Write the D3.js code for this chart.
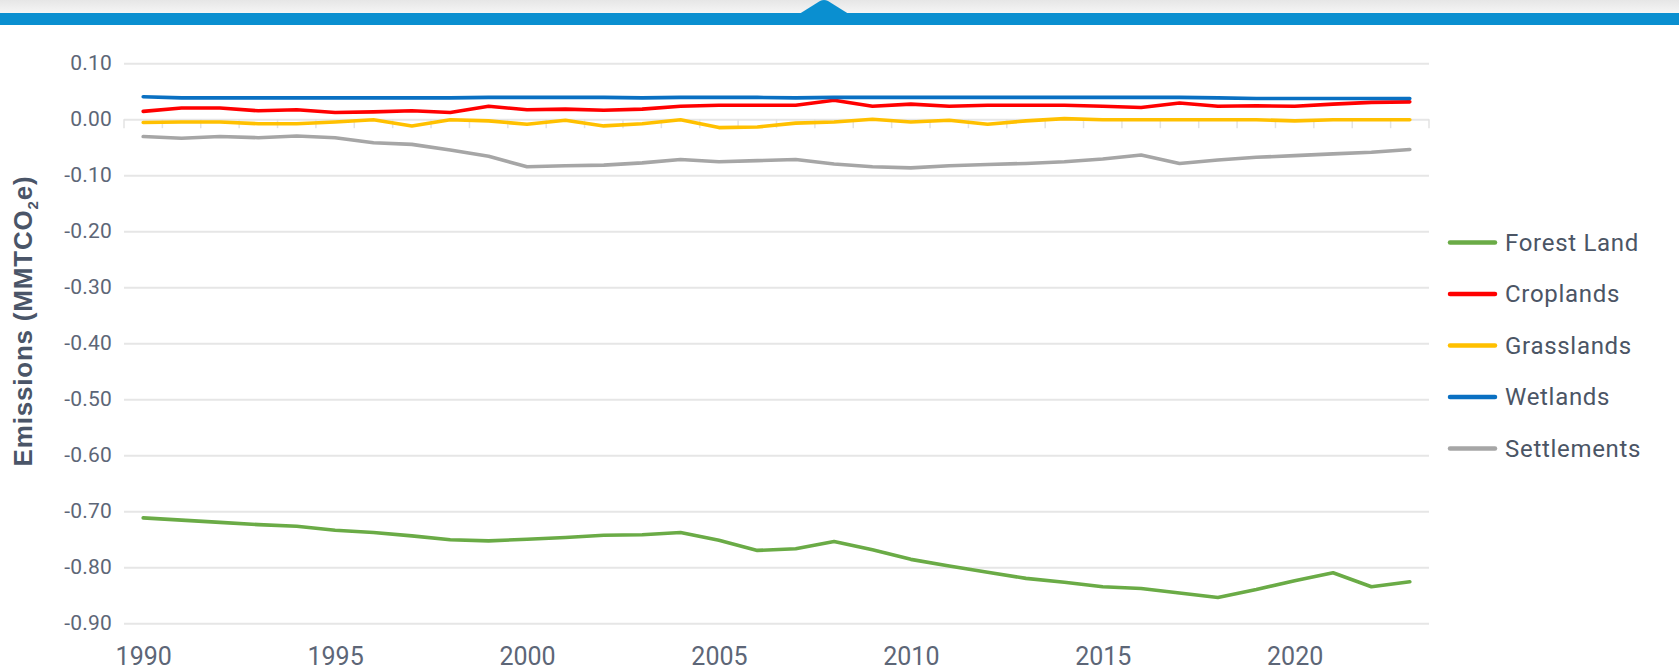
<!DOCTYPE html>
<html>
<head>
<meta charset="utf-8">
<script src="https://cdn.jsdelivr.net/npm/d3@7"></script>
<style>
  html, body { margin: 0; padding: 0; background: #ffffff; }
  svg { display: block; }
</style>
</head>
<body>
<svg id="chart" width="1679" height="671"></svg>
<script>
const years = d3.range(1990, 2024);
const seriesNames = ["Forest Land", "Croplands", "Grasslands", "Wetlands", "Settlements"];
const seriesColors = ["#6aab46", "#ff0000", "#ffc000", "#0a70c2", "#a6a6a6"];

const forestLand = [-0.712, -0.716, -0.720, -0.724, -0.727, -0.734, -0.738, -0.744, -0.751, -0.753,
  -0.750, -0.747, -0.743, -0.742, -0.738, -0.752, -0.770, -0.767, -0.754, -0.769,
  -0.786, -0.798, -0.809, -0.820, -0.827, -0.835, -0.838, -0.846, -0.854, -0.840,
  -0.824, -0.810, -0.835, -0.826];
const croplands = [0.014, 0.020, 0.020, 0.015, 0.017, 0.012, 0.013, 0.015, 0.012, 0.023,
  0.017, 0.018, 0.016, 0.018, 0.023, 0.025, 0.025, 0.025, 0.034, 0.023,
  0.027, 0.023, 0.025, 0.025, 0.025, 0.023, 0.021, 0.029, 0.023, 0.024,
  0.023, 0.027, 0.030, 0.031];
const grasslands = [-0.006, -0.005, -0.005, -0.008, -0.008, -0.005, -0.001, -0.012, -0.001, -0.003,
  -0.009, -0.002, -0.012, -0.008, -0.001, -0.015, -0.014, -0.007, -0.005, 0.000,
  -0.005, -0.002, -0.009, -0.003, 0.001, -0.001, -0.001, -0.001, -0.001, -0.001,
  -0.003, -0.001, -0.001, -0.001];
const wetlands = [0.040, 0.038, 0.038, 0.038, 0.038, 0.038, 0.038, 0.038, 0.038, 0.039,
  0.039, 0.039, 0.039, 0.038, 0.039, 0.039, 0.039, 0.038, 0.039, 0.039,
  0.039, 0.039, 0.039, 0.039, 0.039, 0.039, 0.039, 0.039, 0.038, 0.037,
  0.037, 0.037, 0.037, 0.037];
const settlements = [-0.031, -0.034, -0.031, -0.033, -0.030, -0.033, -0.042, -0.045, -0.055, -0.066,
  -0.085, -0.083, -0.082, -0.078, -0.072, -0.076, -0.074, -0.072, -0.080, -0.085,
  -0.087, -0.083, -0.081, -0.079, -0.076, -0.071, -0.064, -0.079, -0.073, -0.068,
  -0.065, -0.062, -0.059, -0.054];

const yTicks = [0.10, 0.00, -0.10, -0.20, -0.30, -0.40, -0.50, -0.60, -0.70, -0.80, -0.90];
const xTickLabels = [1990, 1995, 2000, 2005, 2010, 2015, 2020];
const yTitle = "Emissions (MMTCO";

const allSeries = [forestLand, croplands, grasslands, wetlands, settlements];

const svg = d3.select("#chart");
const W = 1679;

// ---- top header bar ----
const defs = svg.append("defs");
const grad = defs.append("linearGradient").attr("id", "topgrad").attr("x1", 0).attr("y1", 0).attr("x2", 0).attr("y2", 1);
grad.append("stop").attr("offset", "0%").attr("stop-color", "#e6e6e6");
grad.append("stop").attr("offset", "100%").attr("stop-color", "#f5f5f5");
svg.append("rect").attr("x", 0).attr("y", 0).attr("width", W).attr("height", 13).attr("fill", "url(#topgrad)");
svg.append("rect").attr("x", 0).attr("y", 13).attr("width", W).attr("height", 12).attr("fill", "#0a8fd0");
svg.append("path").attr("d", "M800,13.5 L820,1 Q824,-1 828,1 L848,13.5 Z").attr("fill", "#0a8fd0");

// ---- scales ----
const plotLeft = 124, plotRight = 1429;
const x = d3.scalePoint().domain(years).range([plotLeft, plotRight]).padding(0.5);
const y = d3.scaleLinear().domain([-0.9, 0.1]).range([623.2, 63.2]);
const fmt = d3.formatLocale({decimal: ".", thousands: ",", grouping: [3], currency: ["$", ""], minus: "-"}).format(".2f");

// gridlines + y labels via axis
const yAxis = d3.axisLeft(y).tickValues(yTicks).tickFormat(fmt).tickSize(-(plotRight - plotLeft)).tickPadding(12);
const gy = svg.append("g").attr("transform", `translate(${plotLeft},0)`).call(yAxis);
gy.select(".domain").remove();
gy.selectAll(".tick line").attr("stroke", "#e6e6e6").attr("stroke-width", 2);
gy.selectAll(".tick text")
  .attr("fill", "#5d6677")
  .attr("font-family", "Roboto, 'Noto Sans', sans-serif")
  .attr("font-size", 21)
  .attr("letter-spacing", "0.2px");

// x axis: ticks between categories at zero line, labels at bottom
const step = x.step();
const boundaries = d3.range(0, years.length + 1).map(i => plotLeft + i * step);
svg.append("g").selectAll("line").data(boundaries).join("line")
  .attr("x1", d => d).attr("x2", d => d)
  .attr("y1", y(0)).attr("y2", y(0) + 9)
  .attr("stroke", "#e3e3e3").attr("stroke-width", 1.5);

const xAxis = d3.axisBottom(x).tickValues(xTickLabels).tickSize(0).tickPadding(0);
const gx = svg.append("g").attr("transform", `translate(0,${y(-0.9) + 24.5})`).call(xAxis);
gx.select(".domain").remove();
gx.selectAll(".tick text")
  .attr("fill", "#5d6677")
  .attr("font-family", "Roboto, 'Noto Sans', sans-serif")
  .attr("font-size", 25)
  .attr("dy", "0.71em");

// ---- lines ----
const line = d3.line().x((d, i) => x(years[i])).y(d => y(d)).curve(d3.curveLinear);
const order = [4, 2, 1, 3, 0];
order.forEach(si => {
  svg.append("path")
    .datum(allSeries[si])
    .attr("d", line)
    .attr("fill", "none")
    .attr("stroke", seriesColors[si])
    .attr("stroke-width", 3.6)
    .attr("stroke-linejoin", "round")
    .attr("stroke-linecap", "round");
});

// ---- y title ----
const title = svg.append("text")
  .attr("transform", `translate(32,321) rotate(-90)`)
  .attr("text-anchor", "middle")
  .attr("fill", "#4a5568")
  .attr("font-family", "'Liberation Sans', Arial, sans-serif")
  .attr("font-weight", "bold")
  .attr("font-size", 26)
  .attr("letter-spacing", "0.8px");
title.append("tspan").text(yTitle);
title.append("tspan").attr("font-size", 15).attr("dy", 6).text("2");
title.append("tspan").attr("dy", -6).text("e)");

// ---- legend ----
const legendY0 = 242.5, legendStep = 51.5;
const lg = svg.append("g");
seriesNames.forEach((name, i) => {
  const cy = legendY0 + i * legendStep;
  lg.append("line").attr("x1", 1450).attr("x2", 1495).attr("y1", cy).attr("y2", cy)
    .attr("stroke", seriesColors[i]).attr("stroke-width", 4.5).attr("stroke-linecap", "round");
  lg.append("text").attr("x", 1505).attr("y", cy).attr("dy", "0.35em")
    .attr("fill", "#4b5565")
    .attr("font-family", "Roboto, 'Noto Sans', sans-serif")
    .attr("font-size", 24)
    .attr("letter-spacing", "0.7px")
    .text(name);
});
</script>
</body>
</html>
